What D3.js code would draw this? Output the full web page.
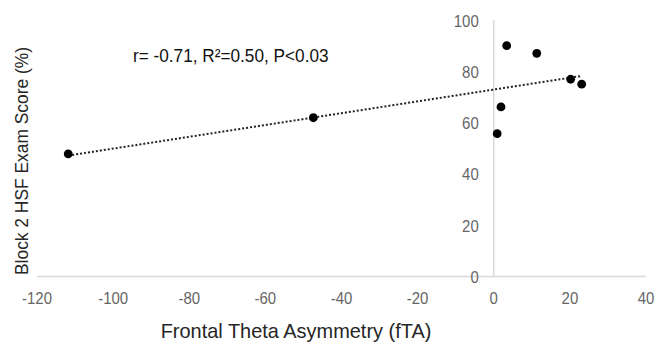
<!DOCTYPE html>
<html>
<head>
<meta charset="utf-8">
<script src="https://cdn.jsdelivr.net/npm/d3@7"></script>
<style>
  body { margin: 0; background: #fff; }
  text { font-family: "Liberation Sans", Arial, sans-serif; }
</style>
</head>
<body>
<div id="chart"></div>
<script>
// Scores
const ftaValues = [-111.8, -47.4, 0.9, 1.9, 3.4, 11.3, 20.2, 23.1];
const examScores = [47.8, 61.9, 55.7, 66.1, 90.0, 87.0, 76.9, 75.0];
const xTicks = [-120, -100, -80, -60, -40, -20, 0, 20, 40];
const yTicks = [0, 20, 40, 60, 80, 100];
const statsLabel = "r= -0.71, R²=0.50, P<0.03";

const width = 668, height = 354;

const svg = d3.select("#chart").append("svg")
    .attr("width", width)
    .attr("height", height);

//Scales
const x = d3.scaleLinear().domain([-120, 40]).range([37, 646]);
const y = d3.scaleLinear().domain([0, 100]).range([276.5, 20]);

const points = ftaValues.map((v, i) => ({ x: v, y: examScores[i] }));

//Axis lines (crossing at zero, Excel style)
svg.append("line")
    .attr("x1", x(-120)).attr("x2", x(40))
    .attr("y1", y(0)).attr("y2", y(0))
    .style("stroke", "#d9d9d9").style("stroke-width", 1.5);

svg.append("line")
    .attr("x1", x(0)).attr("x2", x(0))
    .attr("y1", y(0)).attr("y2", y(100))
    .style("stroke", "#d9d9d9").style("stroke-width", 1.5);

//Tick labels - the original font is a bit narrow, so squeeze horizontally
svg.selectAll(".x-tick")
    .data(xTicks)
    .join("text")
    .attr("class", "x-tick")
    .attr("transform", d => `translate(${x(d)},303.5) scale(0.88,1)`)
    .attr("text-anchor", "middle")
    .style("font-size", "17px")
    .style("fill", "#666")
    .text(d => d);

svg.selectAll(".y-tick")
    .data(yTicks)
    .join("text")
    .attr("class", "y-tick")
    .attr("transform", d => `translate(${x(0) - 15},${y(d) + 6.5}) scale(0.88,1)`)
    .attr("text-anchor", "end")
    .style("font-size", "17px")
    .style("fill", "#666")
    .text(d => d);

//Linear trendline from least squares
const mx = d3.mean(points, d => d.x);
const my = d3.mean(points, d => d.y);
const slope = d3.sum(points, d => (d.x - mx) * (d.y - my)) / d3.sum(points, d => (d.x - mx) ** 2);
const intercept = my - slope * mx;
const [xmin, xmax] = d3.extent(points, d => d.x);

svg.append("line")
    .attr("x1", x(xmin)).attr("y1", y(slope * xmin + intercept))
    .attr("x2", x(xmax)).attr("y2", y(slope * xmax + intercept))
    .style("stroke", "#222")
    .style("stroke-width", 2)
    .style("stroke-dasharray", "2,2");

//Points
svg.selectAll(".dot")
    .data(points)
    .join("circle")
    .attr("class", "dot")
    .attr("cx", d => x(d.x))
    .attr("cy", d => y(d.y))
    .attr("r", 4.4)
    .style("fill", "#000");

//Axis titles
svg.append("text")
    .attr("transform", "translate(296,337.5) scale(0.95,1)")
    .attr("text-anchor", "middle")
    .style("font-size", "21px")
    .style("fill", "#262626")
    .text("Frontal Theta Asymmetry (fTA)");

svg.append("text")
    .attr("transform", "translate(27.5,161) rotate(-90)")
    .attr("text-anchor", "middle")
    .attr("textLength", 228)
    .attr("lengthAdjust", "spacingAndGlyphs")
    .style("font-size", "18.5px")
    .style("fill", "#262626")
    .text("Block 2 HSF Exam Score (%)");

//Stats annotation
svg.append("text")
    .attr("transform", "translate(133,61.5) scale(0.93,1)")
    .style("font-size", "18.5px")
    .style("fill", "#111")
    .text(statsLabel);
</script>
</body>
</html>
